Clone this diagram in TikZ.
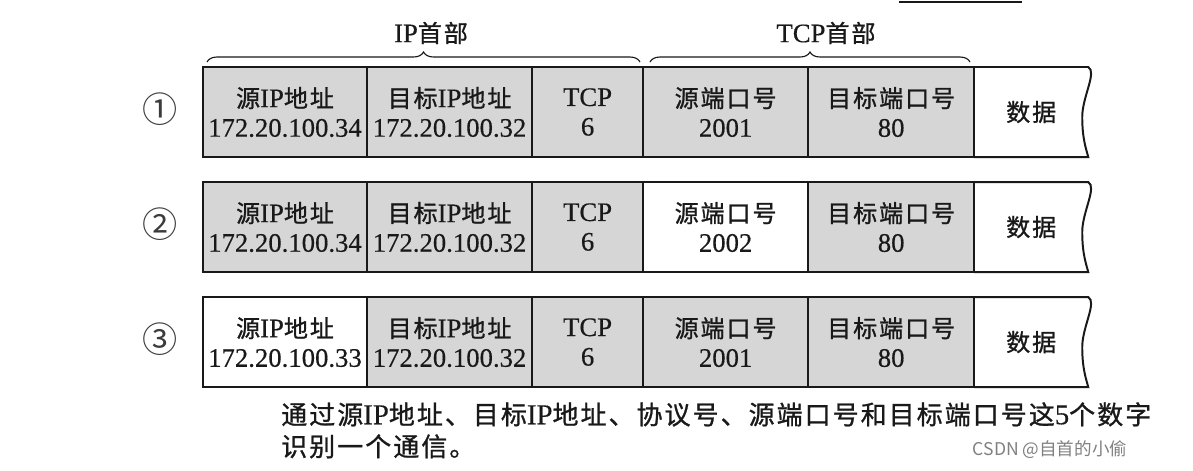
\documentclass[tikz,border=0pt]{standalone}
\usepackage{fontspec}
\setmainfont[FakeBold=0.4]{Liberation Serif}
\newfontfamily\cjk[Scale=0.9,LetterSpace=8,FakeBold=1]{Noto Sans CJK SC}
\newfontfamily\numfont{Noto Sans CJK SC}
\newfontfamily\wmfont{Noto Sans CJK SC}
\usepackage{tikz}
\usetikzlibrary{positioning, calc, decorations.pathreplacing}
\definecolor{cellgray}{RGB}{214,214,214}
\definecolor{ink}{RGB}{25,25,25}
\newcommand{\zh}[1]{{\cjk #1}}
\tikzstyle{fld}=[%
      rectangle, draw=ink, line width=1.4pt, fill=cellgray, text=ink,
      minimum height=2.25cm, inner sep=0pt, outer sep=0pt, align=center,
      font=\fontsize{19}{21}\selectfont
]
\tikzstyle{fldw}=[fld, fill=white]
\tikzstyle{dat}=[fld, draw=none, fill=none]
\tikzstyle{tail}=[draw=ink, line width=1.4pt]
\tikzstyle{hbrace}=[%
      decorate, decoration={brace, amplitude=0.25cm}, draw=ink, line width=0.8pt
]
\tikzstyle{lbl}=[text=ink, inner sep=0pt, font=\fontsize{19}{21}\selectfont]
\tikzstyle{rownum}=[text=ink!85, inner sep=0pt, font=\numfont\fontsize{25}{27}\selectfont]
\tikzstyle{notetext}=[lbl, align=left, font=\fontsize{20.5}{22.7}\selectfont]

\begin{document}
\begin{tikzpicture}[x=0.025cm, y=-0.025cm]
    \useasboundingbox (0,0) rectangle (1193,470);

    % row 1
    \node[fld, minimum width=4.1cm, anchor=north west] (s1) at (203,67) {\zh{源}IP\zh{地址}\\172.20.100.34};
    \node[fld, minimum width=4.125cm, right=0pt of s1] (d1) {\zh{目标}IP\zh{地址}\\172.20.100.32};
    \node[fld, minimum width=2.775cm, right=0pt of d1] (p1) {TCP\\6};
    \node[fld, minimum width=4.125cm, right=0pt of p1] (sp1) {\zh{源端口号}\\2001};
    \node[fld, minimum width=4.15cm, right=0pt of sp1] (dp1) {\zh{目标端口号}\\80};
    \node[dat, minimum width=2.85cm, right=0pt of dp1] (dt1) {\zh{数据}};

    % row 2
    \node[fld, minimum width=4.1cm, below=0.625cm of s1] (s2) {\zh{源}IP\zh{地址}\\172.20.100.34};
    \node[fld, minimum width=4.125cm, right=0pt of s2] (d2) {\zh{目标}IP\zh{地址}\\172.20.100.32};
    \node[fld, minimum width=2.775cm, right=0pt of d2] (p2) {TCP\\6};
    \node[fldw, minimum width=4.125cm, right=0pt of p2] (sp2) {\zh{源端口号}\\2002};
    \node[fld, minimum width=4.15cm, right=0pt of sp2] (dp2) {\zh{目标端口号}\\80};
    \node[dat, minimum width=2.85cm, right=0pt of dp2] (dt2) {\zh{数据}};

    % row 3
    \node[fldw, minimum width=4.1cm, below=0.625cm of s2] (s3) {\zh{源}IP\zh{地址}\\172.20.100.33};
    \node[fld, minimum width=4.125cm, right=0pt of s3] (d3) {\zh{目标}IP\zh{地址}\\172.20.100.32};
    \node[fld, minimum width=2.775cm, right=0pt of d3] (p3) {TCP\\6};
    \node[fld, minimum width=4.125cm, right=0pt of p3] (sp3) {\zh{源端口号}\\2001};
    \node[fld, minimum width=4.15cm, right=0pt of sp3] (dp3) {\zh{目标端口号}\\80};
    \node[dat, minimum width=2.85cm, right=0pt of dp3] (dt3) {\zh{数据}};

    % torn right end of the data field
    \foreach \r in {dt1, dt2, dt3} {
      \draw[tail] (\r.north west) -- (\r.north east)
        .. controls ($(\r.north east)+(9,5)$) and ($(\r.north east)+(-6,30)$) .. ($(\r.north east)+(-6,50)$)
        .. controls ($(\r.north east)+(-6,72)$) and ($(\r.south east)+(-2,-8)$) .. (\r.south east)
        -- (\r.south west);
    }

    \node[rownum] (n1) at (160,109) {①};
    \node[rownum] (n2) at (160,224) {②};
    \node[rownum] (n3) at (160,339) {③};

    \draw[hbrace] (207,62) -- (640,62);
    \draw[hbrace] (650,62) -- (970,62);
    \node[lbl] (iph) at (431,33) {IP\zh{首部}};
    \node[lbl] (tcph) at (826,33) {TCP\zh{首部}};

    \draw[ink, line width=1pt] (899,2) -- (1022,2);

    \node[notetext, anchor=north west] (note) at (281,402)
      {\zh{通过源}IP\zh{地址、目标}IP\zh{地址、协议号、源端口号和目标端口号这}5\zh{个数字}\\\zh{识别一个通信。}};
    \node[text=gray, inner sep=0pt, font=\wmfont\fontsize{12.5}{15}\selectfont] (wm) at (1050,450) {CSDN @自首的小偷};
\end{tikzpicture}
\end{document}
